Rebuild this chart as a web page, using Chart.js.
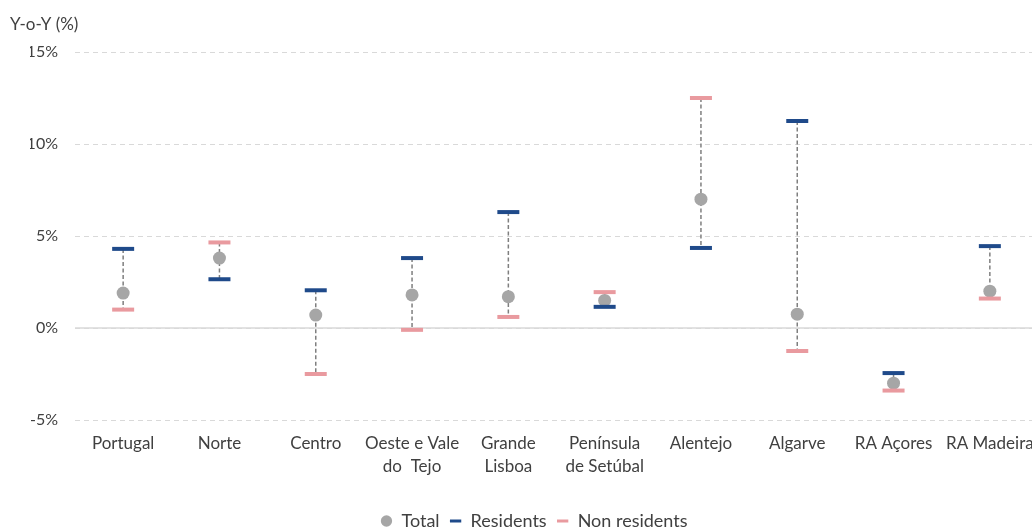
<!DOCTYPE html>
<html>
<head>
<meta charset="utf-8">
<script src="https://cdn.jsdelivr.net/npm/chart.js@4.4.1/dist/chart.umd.min.js"></script>
<style>
  html, body { margin: 0; padding: 0; background: #fff; overflow: hidden; }
  #c { position: absolute; left: 0; top: 0; }
</style>
</head>
<body>
<canvas id="c" width="1040" height="529"></canvas>
<script>
// Regions (multi-line labels as arrays)
const categories = [
  'Portugal', 'Norte', 'Centro', ['Oeste e Vale', 'do  Tejo'], ['Grande', 'Lisboa'],
  ['Península', 'de Setúbal'], 'Alentejo', 'Algarve', 'RA Açores', 'RA Madeira'
];
// Year-on-year change, %
const totalValues       = [1.9, 3.8, 0.7, 1.8, 1.7, 1.5, 7.0, 0.75, -3.0, 2.0];
const residentValues    = [4.3, 2.65, 2.05, 3.8, 6.3, 1.15, 4.35, 11.25, -2.45, 4.45];
const nonResidentValues = [1.0, 4.65, -2.5, -0.1, 0.6, 1.95, 12.5, -1.25, -3.4, 1.6];
const yTicks = [-5, 0, 5, 10, 15];
const axisTitle = 'Y-o-Y (%)';

const FONT = 'Lato, "Open Sans", sans-serif';
const TEXT = '#404040';
const BLUE = '#1F4A8A';
const PINK = '#E99A9F';
const GREY = '#A6A6A6';

// Dashed vertical range joining the markers of each region, the solid zero line
// and the unit caption above the value axis
const rangeLines = {
  id: 'rangeLines',
  beforeDatasetsDraw(chart) {
    const { ctx, chartArea, scales: { x, y } } = chart;
    ctx.save();
    const y0 = y.getPixelForValue(0);
    ctx.strokeStyle = '#D9D9D9';
    ctx.lineWidth = 1.5;
    ctx.setLineDash([]);
    ctx.beginPath();
    ctx.moveTo(chartArea.left, y0);
    ctx.lineTo(chartArea.right, y0);
    ctx.stroke();

    ctx.strokeStyle = '#7F7F7F';
    ctx.lineWidth = 1.5;
    ctx.setLineDash([4, 2.5]);
    categories.forEach((c, i) => {
      const vals = [totalValues[i], residentValues[i], nonResidentValues[i]];
      const px = x.getPixelForValue(i);
      ctx.beginPath();
      ctx.moveTo(px, y.getPixelForValue(Math.max(...vals)));
      ctx.lineTo(px, y.getPixelForValue(Math.min(...vals)));
      ctx.stroke();
    });
    ctx.restore();
  },
  afterDraw(chart) {
    const { ctx, chartArea } = chart;
    ctx.save();
    ctx.fillStyle = TEXT;
    ctx.font = '17px ' + FONT;
    ctx.textAlign = 'left';
    ctx.textBaseline = 'middle';
    ctx.fillText(axisTitle, chartArea.left - 65, chartArea.top - 27);
    ctx.restore();
  }
};

new Chart(document.getElementById('c'), {
  type: 'line',
  data: {
    labels: categories,
    datasets: [
      {
        label: 'Total',
        data: totalValues,
        showLine: false,
        pointStyle: 'circle',
        pointRadius: 6.5,
        pointHoverRadius: 6.5,
        backgroundColor: GREY,
        borderColor: GREY,
        pointBorderWidth: 0,
        order: 2
      },
      {
        label: 'Residents',
        data: residentValues,
        showLine: false,
        pointStyle: 'line',
        pointRadius: 11,
        pointHoverRadius: 11,
        borderColor: BLUE,
        backgroundColor: BLUE,
        pointBorderWidth: 4,
        order: 1
      },
      {
        label: 'Non residents',
        data: nonResidentValues,
        showLine: false,
        pointStyle: 'line',
        pointRadius: 11,
        pointHoverRadius: 11,
        borderColor: PINK,
        backgroundColor: PINK,
        pointBorderWidth: 4,
        order: 0
      }
    ]
  },
  options: {
    responsive: false,
    animation: false,
    layout: { autoPadding: false, padding: { left: 30, right: 2, top: 52, bottom: -11 } },
    plugins: {
      title: { display: false },
      legend: {
        position: 'bottom',
        labels: {
          color: TEXT,
          font: { family: FONT, size: 18 },
          usePointStyle: true,
          boxHeight: 8,
          boxWidth: 12,
          padding: 10,
          generateLabels(chart) {
            return chart.data.datasets.map((ds, i) => ({
              text: ds.label,
              fillStyle: ds.backgroundColor,
              strokeStyle: ds.borderColor,
              lineWidth: i === 0 ? 0 : 3,
              pointStyle: ds.pointStyle,
              datasetIndex: i,
              fontColor: TEXT,
              hidden: false
            }));
          }
        }
      },
      tooltip: { enabled: false }
    },
    scales: {
      x: {
        offset: true,
        grid: { display: false, drawTicks: false },
        border: { display: false },
        afterFit(scale) {
          scale.height = 82;
          scale.paddingLeft = 0;
          scale.paddingRight = 0;
        },
        ticks: {
          color: TEXT,
          font: { family: FONT, size: 17, lineHeight: 1.35 },
          maxRotation: 0,
          autoSkip: false,
          padding: 12
        }
      },
      y: {
        min: -5,
        max: 15,
        afterBuildTicks(scale) { scale.ticks = yTicks.map(v => ({ value: v })); },
        afterFit(scale) { scale.width = 45; },
        grid: { color: '#D9D9D9', lineWidth: 1, drawTicks: false },
        border: { display: false, dash: [5, 4] },
        ticks: {
          color: TEXT,
          font: { family: FONT, size: 16 },
          padding: 17,
          callback: v => v + '%'
        }
      }
    }
  },
  plugins: [rangeLines]
});
</script>
</body>
</html>
